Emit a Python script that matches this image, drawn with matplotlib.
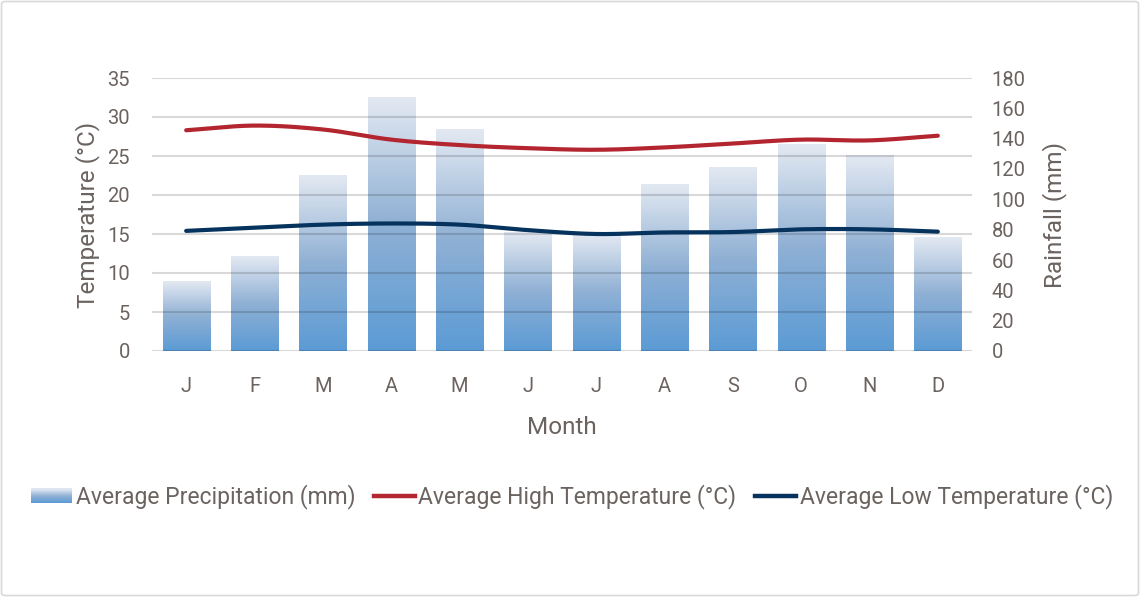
import numpy as np
import matplotlib
matplotlib.use("Agg")
import matplotlib.pyplot as plt
from matplotlib.colors import LinearSegmentedColormap
from matplotlib.patches import Rectangle, FancyBboxPatch
from matplotlib.lines import Line2D
from matplotlib.legend_handler import HandlerBase

plt.rcParams['font.family'] = ['Roboto', 'DejaVu Sans']

months = ["J", "F", "M", "A", "M", "J", "J", "A", "S", "O", "N", "D"]
precip_mm = [46, 62, 116, 167, 146, 78, 77, 110, 121, 136, 129, 75]
high_c = [28.3, 28.9, 28.4, 27.1, 26.4, 26.0, 25.8, 26.1, 26.6, 27.1, 27.0, 27.6]
low_c = [15.4, 15.8, 16.2, 16.35, 16.2, 15.5, 15.0, 15.2, 15.25, 15.6, 15.6, 15.3]
temp_ticks = [0, 5, 10, 15, 20, 25, 30, 35]
rain_ticks = [0, 20, 40, 60, 80, 100, 120, 140, 160, 180]

TEXT = '#6b635f'
RED = '#b3262f'
NAVY = '#05335e'
cmap = LinearSegmentedColormap.from_list(
    'bar', [(0.0, '#5b9bd5'), (0.5, '#8fb0d4'), (1.0, '#e3e9f2')])

W, H = 1140, 597
fig = plt.figure(figsize=(W / 100, H / 100), dpi=100)
fig.patch.set_facecolor('white')
fig.patches.append(FancyBboxPatch((1.5 / W, 1.5 / H), 1 - 3 / W, 1 - 3 / H,
                                  boxstyle='round,pad=0,rounding_size=0.004',
                                  transform=fig.transFigure, fill=False,
                                  edgecolor='#d9d9d9', linewidth=1.2))

rect = [152 / W, 1 - 351 / H, 820 / W, 273 / H]
ax_r = fig.add_axes(rect)          # rainfall (bars), ticks on right
ax_t = ax_r.twinx()                # temperature (lines, grid), ticks on left
ax_t.set_zorder(ax_r.get_zorder() + 1)
ax_t.patch.set_visible(False)

x = np.arange(len(months))
bw = 0.69
for xi, v in zip(x, precip_mm):
    grad = np.linspace(0, 1, 256).reshape(-1, 1)
    ax_r.imshow(grad, cmap=cmap, aspect='auto', origin='lower',
                extent=[xi - bw / 2, xi + bw / 2, 0, v], zorder=2,
                interpolation='bilinear')

ax_r.set_xlim(-0.5, len(months) - 0.5)
ax_r.set_ylim(0, 180)
ax_t.set_ylim(0, 35)
ax_t.set_xlim(-0.5, len(months) - 0.5)

ax_r.yaxis.tick_right()
ax_r.yaxis.set_label_position('right')
ax_t.yaxis.tick_left()
ax_t.yaxis.set_label_position('left')

ax_r.set_yticks(rain_ticks)
ax_t.set_yticks(temp_ticks)
ax_r.set_xticks(x)
ax_r.set_xticklabels(months)

ax_t.grid(axis='y', color='black', alpha=0.15, linewidth=1.5, zorder=0)
ax_t.set_axisbelow(True)


def smooth(xs, ys, n=24):
    xs = np.asarray(xs, float)
    ys = np.asarray(ys, float)
    px = np.concatenate([[2 * xs[0] - xs[1]], xs, [2 * xs[-1] - xs[-2]]])
    py = np.concatenate([[2 * ys[0] - ys[1]], ys, [2 * ys[-1] - ys[-2]]])
    ox, oy = [], []
    for i in range(1, len(px) - 2):
        t = np.linspace(0, 1, n, endpoint=False)
        for arr, out in ((px, ox), (py, oy)):
            p0, p1, p2, p3 = arr[i - 1], arr[i], arr[i + 1], arr[i + 2]
            out.extend(0.5 * ((2 * p1) + (-p0 + p2) * t +
                              (2 * p0 - 5 * p1 + 4 * p2 - p3) * t ** 2 +
                              (-p0 + 3 * p1 - 3 * p2 + p3) * t ** 3))
    ox.append(xs[-1])
    oy.append(ys[-1])
    return np.array(ox), np.array(oy)


sx, sy = smooth(x, high_c)
ax_t.plot(sx, sy, color=RED, linewidth=3.0, solid_capstyle='round', zorder=3)
sx, sy = smooth(x, low_c)
ax_t.plot(sx, sy, color=NAVY, linewidth=3.0, solid_capstyle='round', zorder=3)

for a in (ax_r, ax_t):
    for s in a.spines.values():
        s.set_visible(False)
    a.tick_params(length=0, colors=TEXT, labelsize=14.5)

ax_t.tick_params(axis='y', pad=16)
ax_r.tick_params(axis='y', pad=14)
ax_r.tick_params(axis='x', pad=19)
ax_t.tick_params(axis='x', bottom=False, labelbottom=False)

ax_t.set_ylabel('Temperature (°C)', color=TEXT, fontsize=17.5, labelpad=5)
ax_r.set_ylabel('Rainfall (mm)', color=TEXT, fontsize=17.5, labelpad=12)
ax_r.set_xlabel('Month', color=TEXT, fontsize=17.5, labelpad=14)


class GradientHandler(HandlerBase):
    def create_artists(self, legend, orig_handle, xdescent, ydescent,
                       width, height, fontsize, trans):
        arts = []
        n = 14
        for i in range(n):
            c = cmap((i + 0.5) / n)   # i = 0 is the bottom strip (blue)
            r = Rectangle((-xdescent, -ydescent + height * i / n), width,
                          height / n + 0.3, facecolor=c, edgecolor='none',
                          transform=trans)
            arts.append(r)
        return arts


h_bar = Rectangle((0, 0), 1, 1)
h_high = Line2D([], [], color=RED, linewidth=3.2)
h_low = Line2D([], [], color=NAVY, linewidth=3.2)
leg = fig.legend([h_bar, h_high, h_low],
                 ['Average Precipitation (mm)', 'Average High Temperature (°C)',
                  'Average Low Temperature (°C)'],
                 handler_map={Rectangle: GradientHandler()},
                 loc='center', bbox_to_anchor=(572 / W, 1 - 497 / H), ncol=3,
                 frameon=False, fontsize=16.5, handlelength=1.8,
                 handleheight=0.6, handletextpad=0.15, columnspacing=0.8,
                 labelcolor=TEXT)

fig.savefig('out.png', dpi=100, facecolor='white')
